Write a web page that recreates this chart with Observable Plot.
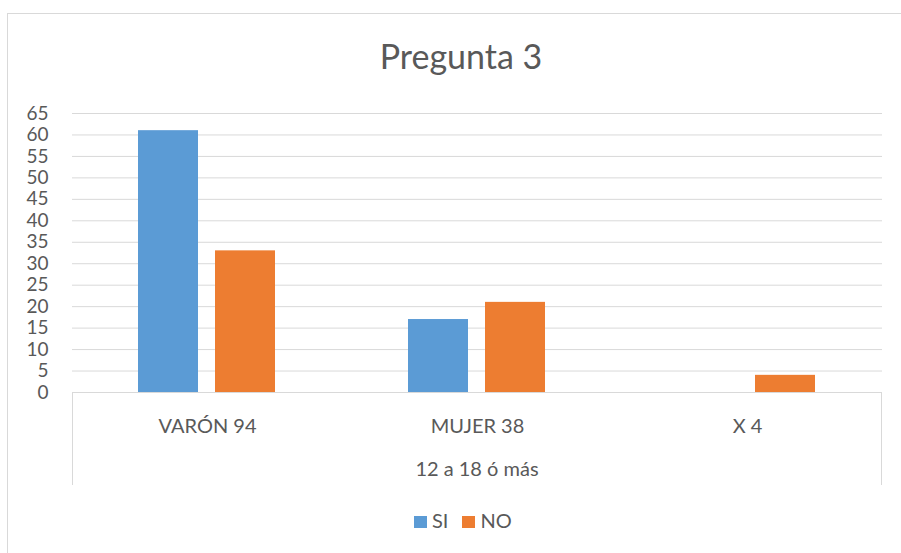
<!DOCTYPE html>
<html>
<head>
<meta charset="utf-8">
<script src="https://cdn.jsdelivr.net/npm/d3@7"></script>
<script src="https://cdn.jsdelivr.net/npm/@observablehq/plot@0.6"></script>
<style>
  html, body { margin: 0; padding: 0; background: #fff; }
  #wrap { position: relative; width: 901px; height: 553px; overflow: hidden; font-family: Lato, "Open Sans", sans-serif; color: #595959; }
  #frame { position: absolute; left: 7px; top: 13px; width: 1000px; height: 1000px; border: 1px solid #d9d9d9; box-sizing: border-box; }
  #title { position: absolute; left: 0; width: 922px; top: 39px; text-align: center; font-size: 34px; line-height: 34px; color: #595959; white-space: nowrap; }
  #chart { position: absolute; left: 0; top: 0; }
  #catbox { position: absolute; left: 72px; top: 392px; width: 810px; height: 93px; border: 1px solid #d9d9d9; border-bottom: none; box-sizing: border-box; }
  #group { position: absolute; left: 72px; width: 810px; top: 458px; text-align: center; font-size: 20px; line-height: 20px; white-space: nowrap; }
  #legend { position: absolute; left: 414px; top: 510px; font-size: 20px; line-height: 20px; white-space: nowrap; }
  .sw { display: inline-block; width: 13px; height: 12px; margin-right: 5px; vertical-align: baseline; }
  .li { margin-right: 14px; }
</style>
</head>
<body>
<div id="wrap">
  <div id="frame"></div>
  <div id="chart"></div>
  <div id="catbox"></div>
  <div id="title"></div>
  <div id="group"></div>
  <div id="legend"></div>
</div>
<script>
const title = "Pregunta 3";
const groupLabel = "12 a 18 ó más";
const categories = ["VARÓN 94", "MUJER 38", "X 4"];
const series = ["SI", "NO"];
const siValues = [61, 17, 0];
const noValues = [33, 21, 4];
const colors = ["#5B9BD5", "#ED7D31"];
const yTicks = [0, 5, 10, 15, 20, 25, 30, 35, 40, 45, 50, 55, 60, 65];

const data = [];
categories.forEach((c, i) => {
  data.push({cat: c, series: "SI", value: siValues[i]});
  data.push({cat: c, series: "NO", value: noValues[i]});
});

document.getElementById("title").textContent = title;
document.getElementById("group").textContent = groupLabel;
const leg = document.getElementById("legend");
series.forEach((s, i) => {
  const span = document.createElement("span");
  span.className = "li";
  span.innerHTML = `<span class="sw" style="background:${colors[i]}"></span>${s}`;
  leg.appendChild(span);
});

const chart = Plot.plot({
  width: 901,
  height: 553,
  marginTop: 113,
  marginBottom: 161,
  marginLeft: 72,
  marginRight: 19,
  style: {fontFamily: "Lato, 'Open Sans', sans-serif", color: "#595959", background: "transparent", overflow: "visible"},
  fx: {domain: categories, padding: 0, axis: null, label: null},
  x: {domain: series, paddingInner: 0.22, paddingOuter: 0.863, axis: null},
  y: {domain: [0, 65], axis: null},
  color: {domain: series, range: colors},
  marks: [
    Plot.gridY(yTicks, {stroke: "#d9d9d9", strokeOpacity: 1, strokeWidth: 1}),
    Plot.axisY(yTicks, {tickSize: 0, tickPadding: 24, fontSize: 19, fill: "#595959", label: null, anchor: "left"}),
    Plot.barY(data, {fx: "cat", x: "series", y: "value", fill: "series"}),
    Plot.text(categories, {fx: d => d, text: d => d, frameAnchor: "bottom", lineAnchor: "middle", dy: 34, fontSize: 20, fill: "#595959"})
  ]
});
document.getElementById("chart").appendChild(chart);
</script>
</body>
</html>
